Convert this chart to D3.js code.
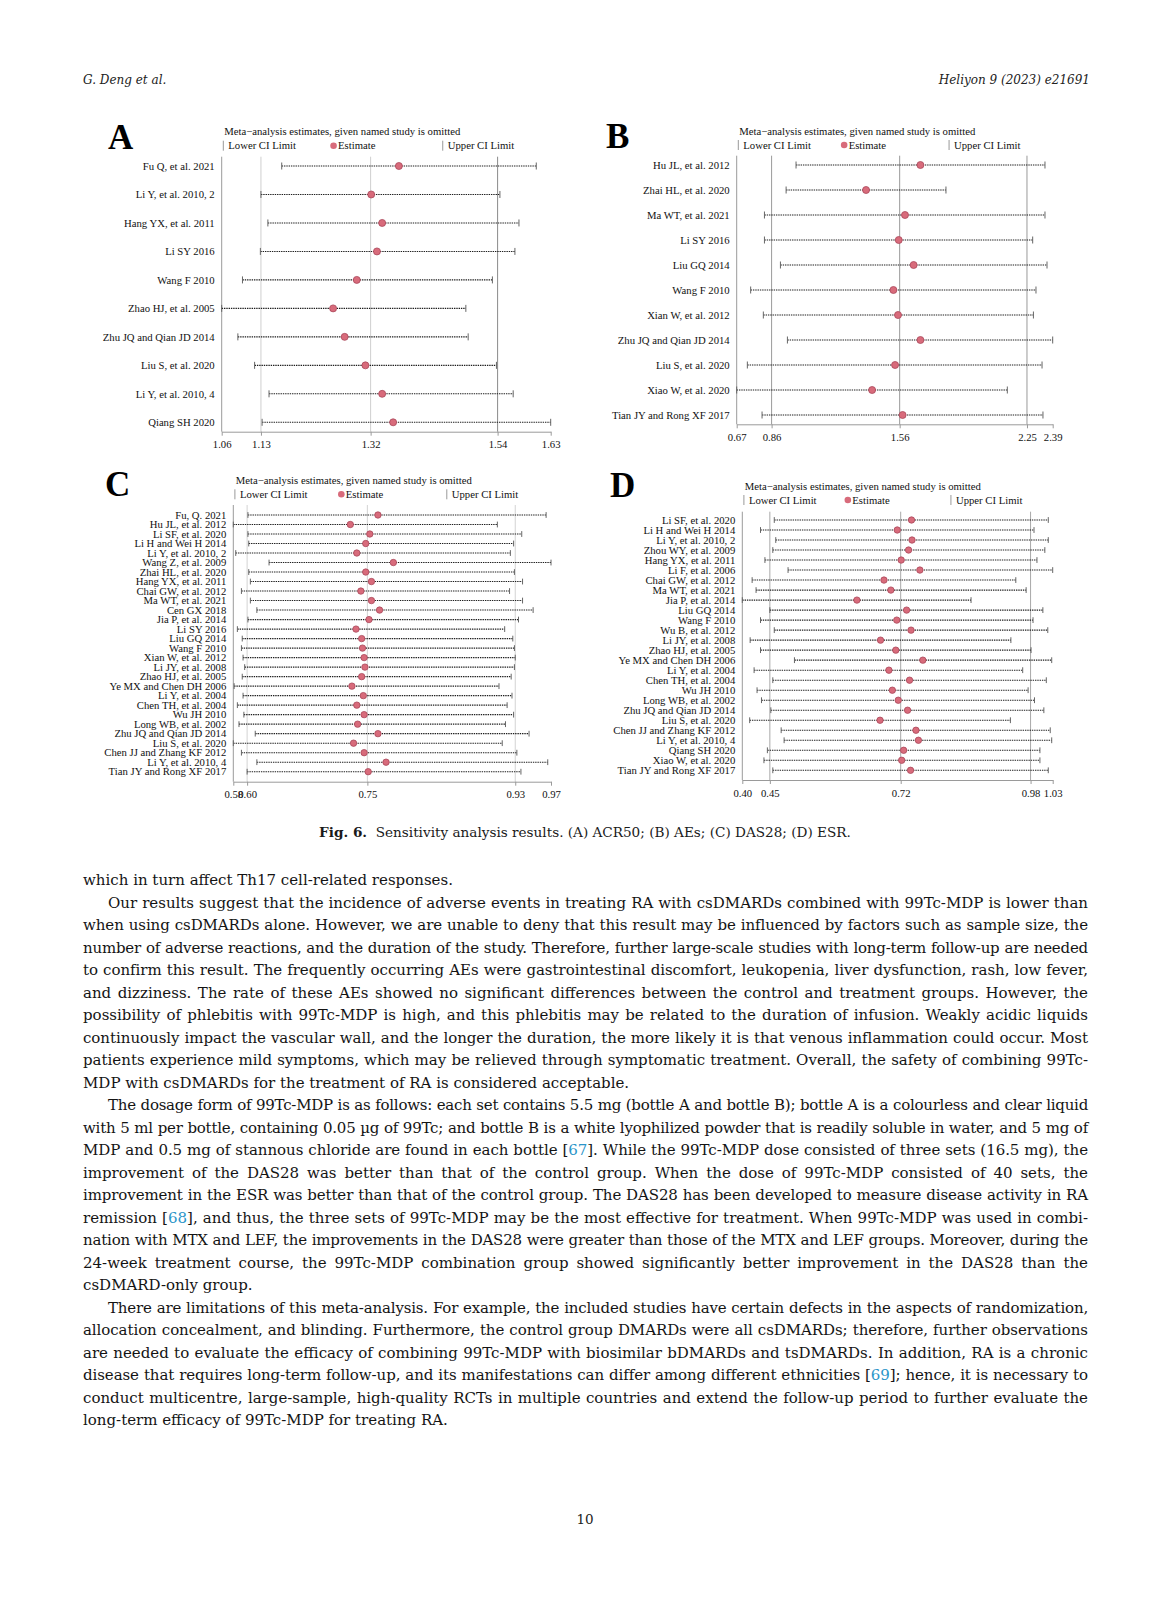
<!DOCTYPE html>
<html lang="en">

<head>
  <title>Fig. 6. Sensitivity analysis results</title>
  <meta charset="utf-8" />
  <script src="https://cdn.jsdelivr.net/npm/d3@7/dist/d3.min.js"></script>
  <style>
    body {
      margin: 0;
      background: #fff;
    }

    #page {
      position: relative;
      width: 1172px;
      height: 1600px;
      background: #fff;
      overflow: hidden;
    }

    #chart {
      position: absolute;
      left: 0;
      top: 0;
    }

    /* 正文 */
    #bodytext {
      position: absolute;
      left: 83px;
      top: 869px;
      width: 1005px;
      font-family: "DejaVu Serif", serif;
      font-size: 15px;
      color: #141414;
    }

    .line {
      height: 22.5px;
      line-height: 22.5px;
      white-space: nowrap;
      text-align: left;
    }

    .line.just {
      text-align: justify;
      text-align-last: justify;
    }

    .line.indent {
      padding-left: 25px;
    }

    .ref {
      color: #2b95c9;
    }
  </style>
</head>

<body>
  <div id="page">
    <svg id="chart" width="1172" height="1600"></svg>
    <div id="bodytext"></div>
  </div>

  <script>
    // ---- panel A: ACR50 ----
    const studiesA = ["Fu Q, et al. 2021", "Li Y, et al. 2010, 2", "Hang YX, et al. 2011", "Li SY 2016", "Wang F 2010",
      "Zhao HJ, et al. 2005", "Zhu JQ and Qian JD 2014", "Liu S, et al. 2020", "Li Y, et al. 2010, 4", "Qiang SH 2020"];
    const lowerA = [1.164, 1.128, 1.140, 1.127, 1.096, 1.060, 1.088, 1.117, 1.142, 1.130];
    const estA = [1.367, 1.319, 1.338, 1.329, 1.294, 1.253, 1.273, 1.309, 1.338, 1.357];
    const upperA = [1.605, 1.542, 1.575, 1.568, 1.529, 1.483, 1.487, 1.536, 1.565, 1.630];
    const ticksA = [1.06, 1.128, 1.318, 1.538, 1.63];

    // ---- panel B: AEs ----
    const studiesB = ["Hu JL, et al. 2012", "Zhai HL, et al. 2020", "Ma WT, et al. 2021", "Li SY 2016", "Liu GQ 2014",
      "Wang F 2010", "Xian W, et al. 2012", "Zhu JQ and Qian JD 2014", "Liu S, et al. 2020", "Xiao W, et al. 2020",
      "Tian JY and Rong XF 2017"];
    const lowerB = [0.993, 0.939, 0.821, 0.821, 0.908, 0.746, 0.815, 0.946, 0.728, 0.670, 0.808];
    const estB = [1.670, 1.374, 1.586, 1.552, 1.633, 1.523, 1.548, 1.670, 1.532, 1.407, 1.573];
    const upperB = [2.348, 1.809, 2.348, 2.281, 2.359, 2.299, 2.285, 2.390, 2.332, 2.143, 2.337];
    const ticksB = [0.67, 0.86, 1.557, 2.25, 2.39];

    // ---- panel C: DAS28 ----
    const studiesC = ["Fu, Q. 2021", "Hu JL, et al. 2012", "Li SF, et al. 2020", "Li H and Wei H 2014",
      "Li Y, et al. 2010, 2", "Wang Z, et al. 2009", "Zhai HL, et al. 2020", "Hang YX, et al. 2011",
      "Chai GW, et al. 2012", "Ma WT, et al. 2021", "Cen GX 2018", "Jia P, et al. 2014", "Li SY 2016",
      "Liu GQ 2014", "Wang F 2010", "Xian W, et al. 2012", "Li JY, et al. 2008", "Zhao HJ, et al. 2005",
      "Ye MX and Chen DH 2006", "Li Y, et al. 2004", "Chen TH, et al. 2004", "Wu JH 2010", "Long WB, et al. 2002",
      "Zhu JQ and Qian JD 2014", "Liu S, et al. 2020", "Chen JJ and Zhang KF 2012", "Li Y, et al. 2010, 4",
      "Tian JY and Rong XF 2017"];
    const lowerC = [0.600, 0.582, 0.600, 0.601, 0.585, 0.626, 0.601, 0.603, 0.592, 0.603, 0.611, 0.600, 0.587, 0.593,
      0.592, 0.594, 0.596, 0.593, 0.583, 0.594, 0.587, 0.595, 0.589, 0.609, 0.582, 0.592, 0.611, 0.599];
    const estC = [0.760, 0.726, 0.750, 0.745, 0.734, 0.779, 0.745, 0.752, 0.739, 0.752, 0.762, 0.749, 0.733, 0.740,
      0.741, 0.743, 0.744, 0.740, 0.728, 0.742, 0.734, 0.743, 0.735, 0.760, 0.730, 0.743, 0.770, 0.748];
    const upperC = [0.967, 0.907, 0.937, 0.927, 0.923, 0.973, 0.928, 0.938, 0.922, 0.938, 0.951, 0.933, 0.916, 0.926,
      0.928, 0.929, 0.928, 0.924, 0.909, 0.925, 0.919, 0.927, 0.917, 0.946, 0.913, 0.931, 0.969, 0.936];
    const ticksC = [0.582, 0.599, 0.747, 0.929, 0.973];

    // ---- panel D: ESR ----
    const studiesD = ["Li SF, et al. 2020", "Li H and Wei H 2014", "Li Y, et al. 2010, 2", "Zhou WY, et al. 2009",
      "Hang YX, et al. 2011", "Li F, et al. 2006", "Chai GW, et al. 2012", "Ma WT, et al. 2021", "Jia P, et al. 2014",
      "Liu GQ 2014", "Wang F 2010", "Wu B, et al. 2012", "Li JY, et al. 2008", "Zhao HJ, et al. 2005",
      "Ye MX and Chen DH 2006", "Li Y, et al. 2004", "Chen TH, et al. 2004", "Wu JH 2010", "Long WB, et al. 2002",
      "Zhu JQ and Qian JD 2014", "Liu S, et al. 2020", "Chen JJ and Zhang KF 2012", "Li Y, et al. 2010, 4",
      "Qiang SH 2020", "Xiao W, et al. 2020", "Tian JY and Rong XF 2017"];
    const lowerD = [0.461, 0.433, 0.464, 0.458, 0.442, 0.489, 0.416, 0.424, 0.396, 0.452, 0.433, 0.461, 0.412, 0.433,
      0.502, 0.420, 0.458, 0.426, 0.435, 0.454, 0.411, 0.475, 0.481, 0.447, 0.440, 0.458];
    const estD = [0.740, 0.711, 0.741, 0.734, 0.719, 0.757, 0.684, 0.698, 0.629, 0.730, 0.710, 0.739, 0.677, 0.708,
      0.763, 0.694, 0.736, 0.701, 0.713, 0.732, 0.676, 0.749, 0.754, 0.724, 0.720, 0.738];
    const upperD = [1.018, 0.989, 1.018, 1.011, 0.995, 1.027, 0.952, 0.973, 0.861, 1.007, 0.987, 1.017, 0.942, 0.983,
      1.025, 0.966, 1.014, 0.977, 0.990, 1.009, 0.941, 1.022, 1.025, 1.001, 1.001, 1.018];
    const ticksD = [0.396, 0.452, 0.718, 0.982, 1.027];

    // 版面位置（像素）
    const panels = [
      { name: "A", studies: studiesA, lower: lowerA, est: estA, upper: upperA, ticks: ticksA,
        x0: 221.7, x1: 550.7, titleY: 131.7, legendY: 145.7, top: 156.7, row0: 166, row1: 422.3, axisY: 431.7,
        letterX: 108, letterY: 149, grid: ["#cfcfcf", "#cfcfcf", "#8a8a8a"], r: 3.5, cap: 3.5 },
      { name: "B", studies: studiesB, lower: lowerB, est: estB, upper: upperB, ticks: ticksB,
        x0: 736.7, x1: 1052.7, titleY: 131, legendY: 145, top: 155.7, row0: 165, row1: 415, axisY: 424.3,
        letterX: 606, letterY: 148, grid: ["#9a9a9a", "#9a9a9a", "#9a9a9a"], r: 3.5, cap: 3.5 },
      { name: "C", studies: studiesC, lower: lowerC, est: estC, upper: upperC, ticks: ticksC,
        x0: 233.3, x1: 551, titleY: 480, legendY: 494.3, top: 505, row0: 515, row1: 771.7, axisY: 781.7,
        letterX: 105, letterY: 496, grid: ["#d3d3d3", "#d3d3d3", "#d3d3d3"], r: 3.2, cap: 2.9 },
      { name: "D", studies: studiesD, lower: lowerD, est: estD, upper: upperD, ticks: ticksD,
        x0: 742.3, x1: 1052.7, titleY: 486.7, legendY: 500, top: 511.7, row0: 520, row1: 770.3, axisY: 780,
        letterX: 610, letterY: 497, grid: ["#a8a8a8", "#a8a8a8", "#a8a8a8"], r: 3.2, cap: 2.9 }
    ];

    const serif = '"Liberation Serif", "Times New Roman", serif';
    const fs = 10.7;
    const svg = d3.select("#chart");

    panels.forEach(function (p) {
      const g = svg.append("g").attr("font-family", serif);
      const x = d3.scaleLinear().domain(d3.extent(p.ticks)).range([p.x0, p.x1]);
      const y = d3.scalePoint().domain(p.studies).range([p.row0, p.row1]);

      // gridlines at the inner ticks
      g.selectAll("line.grid")
        .data(p.ticks.slice(1, -1))
        .join("line")
        .attr("class", "grid")
        .attr("x1", d => x(d)).attr("x2", d => x(d))
        .attr("y1", p.top).attr("y2", p.axisY)
        .attr("stroke", (d, i) => p.grid[i])
        .attr("stroke-width", 1);

      // left axis line
      g.append("line")
        .attr("x1", p.x0).attr("x2", p.x0)
        .attr("y1", p.top).attr("y2", p.axisY)
        .attr("stroke", "#9a9a9a");

      // bottom axis
      const ax = g.append("g")
        .attr("transform", `translate(0,${p.axisY})`)
        .call(d3.axisBottom(x).tickValues(p.ticks).tickFormat(d3.format(".2f"))
          .tickSize(4).tickSizeOuter(0).tickPadding(5));
      ax.attr("font-family", serif).attr("font-size", fs);
      ax.select(".domain").attr("stroke", "#9a9a9a");
      ax.selectAll(".tick line").attr("stroke", "#9a9a9a");
      ax.selectAll(".tick text").attr("fill", "#111");

      const rows = p.studies.map((s, i) => ({ s: s, lo: p.lower[i], est: p.est[i], hi: p.upper[i] }));

      // dotted CI lines
      g.selectAll("line.ci")
        .data(rows)
        .join("line")
        .attr("class", "ci")
        .attr("x1", d => x(d.lo)).attr("x2", d => x(d.hi))
        .attr("y1", d => y(d.s)).attr("y2", d => y(d.s))
        .attr("stroke", "#1e1e1e")
        .attr("stroke-width", 1.1)
        .attr("stroke-dasharray", "1.4,0.9");

      // caps
      ["lo", "hi"].forEach(function (k) {
        g.selectAll("line.cap-" + k)
          .data(rows)
          .join("line")
          .attr("class", "cap-" + k)
          .attr("x1", d => x(d[k])).attr("x2", d => x(d[k]))
          .attr("y1", d => y(d.s) - p.cap).attr("y2", d => y(d.s) + p.cap)
          .attr("stroke", "#666")
          .attr("stroke-width", 1);
      });

      // estimates
      g.selectAll("circle.est")
        .data(rows)
        .join("circle")
        .attr("class", "est")
        .attr("cx", d => x(d.est))
        .attr("cy", d => y(d.s))
        .attr("r", p.r)
        .attr("fill", "#d86b7b")
        .attr("stroke", "#a9485a")
        .attr("stroke-width", 0.8);

      // study labels
      g.selectAll("text.lab")
        .data(rows)
        .join("text")
        .attr("class", "lab")
        .attr("x", p.x0 - 7)
        .attr("y", d => y(d.s))
        .attr("dy", "0.35em")
        .attr("text-anchor", "end")
        .attr("font-size", fs)
        .attr("fill", "#111")
        .text(d => d.s);

      // title + legend
      const w = p.x1 - p.x0;
      g.append("text")
        .attr("x", p.x0 + 2.5).attr("y", p.titleY).attr("dy", "0.35em")
        .attr("font-size", fs).attr("fill", "#111")
        .text("Meta\u2212analysis estimates, given named study is omitted");

      [0.006, 0.673].forEach(function (f, i) {
        const lx = p.x0 + 1.6 + (f - 0.006) * w;
        g.append("line")
          .attr("x1", lx).attr("x2", lx)
          .attr("y1", p.legendY - 5).attr("y2", p.legendY + 5)
          .attr("stroke", "#999");
        g.append("text")
          .attr("x", lx + 5).attr("y", p.legendY).attr("dy", "0.35em")
          .attr("font-size", fs).attr("fill", "#111")
          .text(i === 0 ? "Lower CI Limit" : "Upper CI Limit");
      });
      g.append("circle")
        .attr("cx", p.x0 + 0.34 * w).attr("cy", p.legendY)
        .attr("r", 3.3)
        .attr("fill", "#d86b7b");
      g.append("text")
        .attr("x", p.x0 + 0.34 * w + 4.5).attr("y", p.legendY).attr("dy", "0.35em")
        .attr("font-size", fs).attr("fill", "#111")
        .text("Estimate");

      // panel letter
      g.append("text")
        .attr("x", p.letterX).attr("y", p.letterY)
        .attr("font-size", 35).attr("font-weight", "bold").attr("fill", "#000")
        .text(p.name);
    });

    // running head, caption, page number
    const bodySerif = '"DejaVu Serif", serif';
    svg.append("text")
      .attr("x", 83).attr("y", 84)
      .attr("font-family", bodySerif).attr("font-style", "italic").attr("font-size", 12)
      .attr("fill", "#222")
      .text("G. Deng et al.");
    svg.append("text")
      .attr("x", 1090).attr("y", 84).attr("text-anchor", "end")
      .attr("font-family", bodySerif).attr("font-style", "italic").attr("font-size", 12)
      .attr("fill", "#222")
      .text("Heliyon 9 (2023) e21691");

    const cap = svg.append("text")
      .attr("x", 585).attr("y", 837).attr("text-anchor", "middle")
      .attr("font-family", bodySerif).attr("font-size", 13.6).attr("fill", "#1a1a1a");
    cap.append("tspan").attr("font-weight", "bold").text("Fig. 6.");
    cap.append("tspan").text("\u00a0 Sensitivity analysis results. (A) ACR50; (B) AEs; (C) DAS28; (D) ESR.");

    svg.append("text")
      .attr("x", 585).attr("y", 1524).attr("text-anchor", "middle")
      .attr("font-family", bodySerif).attr("font-size", 13.5).attr("fill", "#222")
      .text("10");

    // body text, one entry per printed line: [text, indent, lastLineOfParagraph]
    const lines = [
      ["which in turn affect Th17 cell-related responses.", 0, 1],
      ["Our results suggest that the incidence of adverse events in treating RA with csDMARDs combined with 99Tc-MDP is lower than", 1, 0],
      ["when using csDMARDs alone. However, we are unable to deny that this result may be influenced by factors such as sample size, the", 0, 0],
      ["number of adverse reactions, and the duration of the study. Therefore, further large-scale studies with long-term follow-up are needed", 0, 0],
      ["to confirm this result. The frequently occurring AEs were gastrointestinal discomfort, leukopenia, liver dysfunction, rash, low fever,", 0, 0],
      ["and dizziness. The rate of these AEs showed no significant differences between the control and treatment groups. However, the", 0, 0],
      ["possibility of phlebitis with 99Tc-MDP is high, and this phlebitis may be related to the duration of infusion. Weakly acidic liquids", 0, 0],
      ["continuously impact the vascular wall, and the longer the duration, the more likely it is that venous inflammation could occur. Most", 0, 0],
      ["patients experience mild symptoms, which may be relieved through symptomatic treatment. Overall, the safety of combining 99Tc-", 0, 0],
      ["MDP with csDMARDs for the treatment of RA is considered acceptable.", 0, 1],
      ["The dosage form of 99Tc-MDP is as follows: each set contains 5.5 mg (bottle A and bottle B); bottle A is a colourless and clear liquid", 1, 0],
      ["with 5 ml per bottle, containing 0.05 \u00b5g of 99Tc; and bottle B is a white lyophilized powder that is readily soluble in water, and 5 mg of", 0, 0],
      ["MDP and 0.5 mg of stannous chloride are found in each bottle [67]. While the 99Tc-MDP dose consisted of three sets (16.5 mg), the", 0, 0],
      ["improvement of the DAS28 was better than that of the control group. When the dose of 99Tc-MDP consisted of 40 sets, the", 0, 0],
      ["improvement in the ESR was better than that of the control group. The DAS28 has been developed to measure disease activity in RA", 0, 0],
      ["remission [68], and thus, the three sets of 99Tc-MDP may be the most effective for treatment. When 99Tc-MDP was used in combi-", 0, 0],
      ["nation with MTX and LEF, the improvements in the DAS28 were greater than those of the MTX and LEF groups. Moreover, during the", 0, 0],
      ["24-week treatment course, the 99Tc-MDP combination group showed significantly better improvement in the DAS28 than the", 0, 0],
      ["csDMARD-only group.", 0, 1],
      ["There are limitations of this meta-analysis. For example, the included studies have certain defects in the aspects of randomization,", 1, 0],
      ["allocation concealment, and blinding. Furthermore, the control group DMARDs were all csDMARDs; therefore, further observations", 0, 0],
      ["are needed to evaluate the efficacy of combining 99Tc-MDP with biosimilar bDMARDs and tsDMARDs. In addition, RA is a chronic", 0, 0],
      ["disease that requires long-term follow-up, and its manifestations can differ among different ethnicities [69]; hence, it is necessary to", 0, 0],
      ["conduct multicentre, large-sample, high-quality RCTs in multiple countries and extend the follow-up period to further evaluate the", 0, 0],
      ["long-term efficacy of 99Tc-MDP for treating RA.", 0, 1]
    ];

    const lineDivs = d3.select("#bodytext").selectAll("div.line")
      .data(lines)
      .join("div")
      .attr("class", d => "line" + (d[1] ? " indent" : ""))
      .html(d => "<span>" + d[0].replace(/\[(\d+)\]/g, '[<span class="ref">$1</span>]') + "</span>");

    // squeeze lines that would overflow, then justify
    lineDivs.each(function (d) {
      const div = this;
      const span = div.firstChild;
      const avail = 1005 - (d[1] ? 25 : 0);
      const wNat = span.getBoundingClientRect().width;
      if (wNat > avail - 6) {
        const n = d[0].length;
        div.style.letterSpacing = ((avail - 6 - wNat) / n).toFixed(3) + "px";
      }
      if (!d[2]) div.classList.add("just");
    });
  </script>
</body>

</html>
